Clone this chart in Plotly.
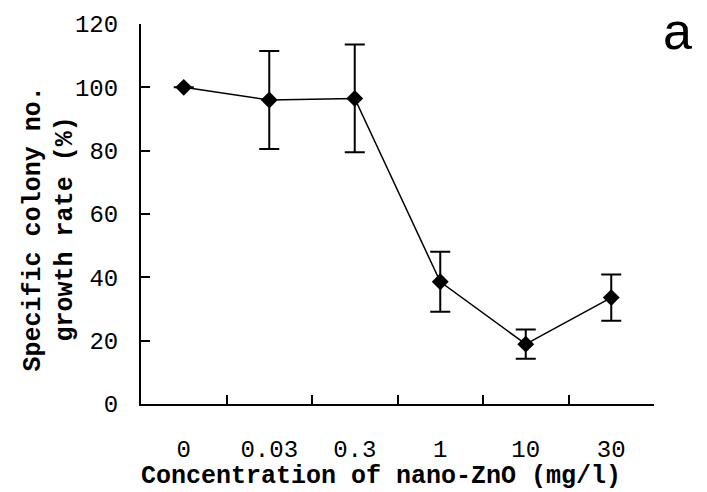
import plotly.graph_objects as go

categories = ["0", "0.03", "0.3", "1", "10", "30"]
growth_rate = [100, 96, 96.5, 38.6, 18.9, 33.6]
error_sd = [None, 15.5, 17, 9.5, 4.6, 7.3]
y_ticks = [0, 20, 40, 60, 80, 100, 120]
x_title = "Concentration of nano-ZnO (mg/l)"
y_title = "Specific colony no.<br>growth rate (%)"

tick_font = dict(family="Liberation Mono", size=24, color="black")
title_font = dict(family="Liberation Mono", size=25, color="black", weight="bold")

fig = go.Figure()
fig.add_trace(go.Scatter(
    x=categories, y=growth_rate,
    mode="lines+markers",
    line=dict(color="black", width=1.5),
    marker=dict(symbol="diamond", size=13, color="black"),
    error_y=dict(type="data", array=error_sd, visible=True,
                 color="black", thickness=2, width=10),
    showlegend=False,
))

fig.update_layout(
    width=707, height=492,
    margin=dict(l=141, r=53, t=24, b=88),
    paper_bgcolor="white", plot_bgcolor="white",
    xaxis=dict(
        type="category", range=[-0.5, 5.5],
        showline=True, linecolor="black", linewidth=2,
        ticks="inside", ticklen=9, tickwidth=1.5, tickcolor="black",
        tickson="boundaries", showgrid=False, zeroline=False,
        tickfont=tick_font, ticklabelstandoff=22,
    ),
    yaxis=dict(
        range=[0, 120], tickvals=y_ticks,
        showline=True, linecolor="black", linewidth=2,
        ticks="inside", ticklen=9, tickwidth=1.5, tickcolor="black",
        showgrid=False, zeroline=False,
        tickfont=tick_font, ticklabelstandoff=16,
    ),
    annotations=[
        dict(text=x_title, xref="paper", yref="paper", x=0.468, y=-0.192,
             xanchor="center", yanchor="middle", showarrow=False, font=title_font),
        dict(text=y_title, xref="paper", yref="paper", x=-0.177, y=0.46,
             xanchor="center", yanchor="middle", textangle=-90, showarrow=False,
             font=title_font),
        dict(text="a", xref="paper", yref="paper", x=1.077, y=1.062,
             xanchor="right", yanchor="top", showarrow=False,
             font=dict(family="Liberation Sans", size=52, color="black")),
    ],
)

fig.write_html("out.html")
